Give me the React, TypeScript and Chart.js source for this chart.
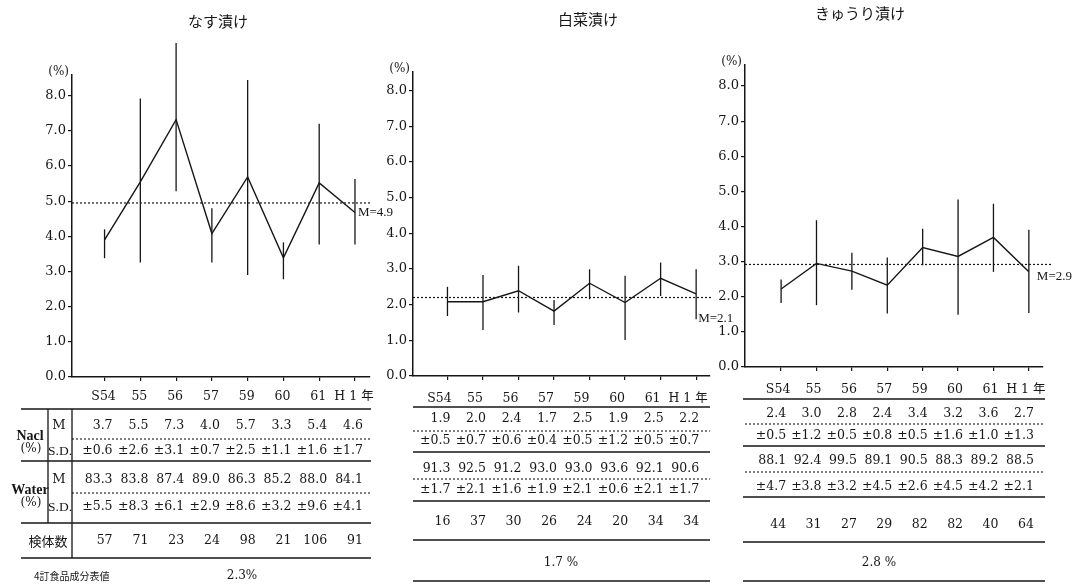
import React, { useEffect, useRef } from "react";
import { Chart, registerables } from "chart.js";
Chart.register(...registerables);

// ---- categories ----
const years = ["S54", "55", "56", "57", "59", "60", "61", "H 1 年"];
const yTicks = [0, 1, 2, 3, 4, 5, 6, 7, 8];

// ---- なす漬け (plotted values) ----
const nasuPoint = [3.9, 5.55, 7.32, 4.08, 5.69, 3.39, 5.52, 4.68];
const nasuHigh = [4.2, 7.92, 9.5, 4.8, 8.45, 3.83, 7.2, 5.63];
const nasuLow = [3.38, 3.26, 5.28, 3.26, 2.9, 2.78, 3.77, 3.77];
const nasuMeanLine = 4.95;
const nasuMeanText = "M=4.9";
const nasuNaclM = [3.7, 5.5, 7.3, 4.0, 5.7, 3.3, 5.4, 4.6];
const nasuNaclSD = [0.6, 2.6, 3.1, 0.7, 2.5, 1.1, 1.6, 1.7];
const nasuWaterM = [83.3, 83.8, 87.4, 89.0, 86.3, 85.2, 88.0, 84.1];
const nasuWaterSD = [5.5, 8.3, 6.1, 2.9, 8.6, 3.2, 9.6, 4.1];
const nasuCount = [57, 71, 23, 24, 98, 21, 106, 91];
const nasuRef = "2.3%";

// ---- 白菜漬け ----
const hakuPoint = [2.08, 2.08, 2.39, 1.82, 2.6, 2.06, 2.74, 2.3];
const hakuHigh = [2.5, 2.83, 3.09, 2.13, 2.99, 2.81, 3.18, 2.99];
const hakuLow = [1.68, 1.29, 1.78, 1.43, 2.15, 1.01, 2.24, 1.59];
const hakuMeanLine = 2.2;
const hakuMeanText = "M=2.1";
const hakuNaclM = [1.9, 2.0, 2.4, 1.7, 2.5, 1.9, 2.5, 2.2];
const hakuNaclSD = [0.5, 0.7, 0.6, 0.4, 0.5, 1.2, 0.5, 0.7];
const hakuWaterM = [91.3, 92.5, 91.2, 93.0, 93.0, 93.6, 92.1, 90.6];
const hakuWaterSD = [1.7, 2.1, 1.6, 1.9, 2.1, 0.6, 2.1, 1.7];
const hakuCount = [16, 37, 30, 26, 24, 20, 34, 34];
const hakuRef = "1.7 %";

// ---- きゅうり漬け ----
const kyuPoint = [2.22, 2.95, 2.73, 2.33, 3.4, 3.15, 3.69, 2.71];
const kyuHigh = [2.49, 4.18, 3.25, 3.12, 3.94, 4.77, 4.65, 3.91];
const kyuLow = [1.82, 1.76, 2.2, 1.52, 2.9, 1.49, 2.71, 1.54];
const kyuMeanLine = 2.92;
const kyuMeanText = "M=2.9";
const kyuNaclM = [2.4, 3.0, 2.8, 2.4, 3.4, 3.2, 3.6, 2.7];
const kyuNaclSD = [0.5, 1.2, 0.5, 0.8, 0.5, 1.6, 1.0, 1.3];
const kyuWaterM = [88.1, 92.4, 99.5, 89.1, 90.5, 88.3, 89.2, 88.5];
const kyuWaterSD = [4.7, 3.8, 3.2, 4.5, 2.6, 4.5, 4.2, 2.1];
const kyuCount = [44, 31, 27, 29, 82, 82, 40, 64];
const kyuRef = "2.8 %";

const SERIF = '"DejaVu Serif", "Liberation Serif", "Noto Sans CJK JP", serif';
const TSERIF = '"Liberation Serif", "DejaVu Serif", serif';
const JP = '"Noto Sans CJK JP", "Liberation Serif", sans-serif';
const INK = "#161616";

const fmtM = (v: number) => v.toFixed(1);
const fmtSD = (v: number) => "±" + v.toFixed(1);
const fmtN = (v: number) => String(v);

type Spec = {
  title: string;
  titleX: number;
  titleY: number;
  left: number;
  width: number;
  padTop: number;
  yW: number;
  padRight: number;
  padBottom: number;
  xMin: number;
  xMax: number;
  yMax: number;
  shift: number;
  labelShift: number;
  tickPad: number;
  point: number[];
  high: number[];
  low: number[];
  meanLine: number;
  meanText: string;
  meanDx: number;
  meanDy: number;
  meanExtra: number;
  rows: { y: number; cells: string[] }[];
  solid: number[];
  dotted: number[];
  lineX0: number;
  lineX1: number;
  dotX0: number;
  ref: string;
  refX: number;
  refY: number;
  withLabels: boolean;
};

const specs: Spec[] = [
  {
    title: "なす漬け", titleX: 218, titleY: 21,
    left: 0, width: 405, padTop: 75, yW: 72, padRight: 35, padBottom: 177,
    xMin: -0.91, xMax: 7.42, yMax: 8.59, shift: 8, labelShift: -1, tickPad: 8,
    point: nasuPoint, high: nasuHigh, low: nasuLow,
    meanLine: nasuMeanLine, meanText: nasuMeanText, meanDx: 3, meanDy: 10, meanExtra: 2,
    rows: [
      { y: 426, cells: nasuNaclM.map(fmtM) },
      { y: 451, cells: nasuNaclSD.map(fmtSD) },
      { y: 480, cells: nasuWaterM.map(fmtM) },
      { y: 507, cells: nasuWaterSD.map(fmtSD) },
      { y: 541, cells: nasuCount.map(fmtN) },
    ],
    solid: [409, 461, 523, 558], dotted: [439, 493],
    lineX0: 21, lineX1: 371, dotX0: 72,
    ref: nasuRef, refX: 242, refY: 576, withLabels: true,
  },
  {
    title: "白菜漬け", titleX: 588, titleY: 19,
    left: 370, width: 370, padTop: 72, yW: 43, padRight: 30, padBottom: 178,
    xMin: -0.97, xMax: 7.39, yMax: 8.52, shift: 3, labelShift: -8, tickPad: 11,
    point: hakuPoint, high: hakuHigh, low: hakuLow,
    meanLine: hakuMeanLine, meanText: hakuMeanText, meanDx: 2, meanDy: 21, meanExtra: 2,
    rows: [
      { y: 419, cells: hakuNaclM.map(fmtM) },
      { y: 441, cells: hakuNaclSD.map(fmtSD) },
      { y: 469, cells: hakuWaterM.map(fmtM) },
      { y: 490, cells: hakuWaterSD.map(fmtSD) },
      { y: 522, cells: hakuCount.map(fmtN) },
    ],
    solid: [407, 452, 501, 540, 581], dotted: [431, 479],
    lineX0: 413, lineX1: 710, dotX0: 413,
    ref: hakuRef, refX: 561, refY: 563, withLabels: false,
  },
  {
    title: "きゅうり漬け", titleX: 860, titleY: 13,
    left: 705, width: 369, padTop: 65, yW: 40, padRight: 31, padBottom: 187,
    xMin: -1.02, xMax: 7.4, yMax: 8.6, shift: 5, labelShift: -3, tickPad: 11,
    point: kyuPoint, high: kyuHigh, low: kyuLow,
    meanLine: kyuMeanLine, meanText: kyuMeanText, meanDx: 8, meanDy: 12, meanExtra: 9,
    rows: [
      { y: 414, cells: kyuNaclM.map(fmtM) },
      { y: 436, cells: kyuNaclSD.map(fmtSD) },
      { y: 461, cells: kyuWaterM.map(fmtM) },
      { y: 487, cells: kyuWaterSD.map(fmtSD) },
      { y: 525, cells: kyuCount.map(fmtN) },
    ],
    solid: [399, 446, 497, 542, 581], dotted: [424, 472],
    lineX0: 743, lineX1: 1045, dotX0: 745,
    ref: kyuRef, refX: 879, refY: 563, withLabels: false,
  },
];

function hline(ctx: CanvasRenderingContext2D, x0: number, x1: number, y: number, dash: number[], w: number) {
  ctx.save();
  ctx.setLineDash(dash);
  ctx.lineWidth = w;
  ctx.strokeStyle = INK;
  ctx.beginPath();
  ctx.moveTo(x0, y);
  ctx.lineTo(x1, y);
  ctx.stroke();
  ctx.restore();
}

function makeExtras(p: Spec) {
  return {
    id: "extras",
    afterDatasetsDraw(chart: any) {
      const { ctx, chartArea } = chart;
      const x = chart.scales.x;
      const y = chart.scales.y;
      ctx.save();
      // error bars
      ctx.strokeStyle = INK;
      ctx.lineWidth = 1.3;
      p.high.forEach((h, i) => {
        const px = x.getPixelForValue(i);
        ctx.beginPath();
        ctx.moveTo(px, y.getPixelForValue(h));
        ctx.lineTo(px, y.getPixelForValue(p.low[i]));
        ctx.stroke();
      });
      // mean line
      const my = y.getPixelForValue(p.meanLine);
      hline(ctx, chartArea.left, chartArea.right + p.meanExtra, my, [2, 2], 1.2);
      ctx.fillStyle = INK;
      ctx.font = "13px " + TSERIF;
      ctx.textAlign = "left";
      ctx.textBaseline = "middle";
      ctx.fillText(p.meanText, x.getPixelForValue(p.point.length - 1) + p.meanDx, my + p.meanDy);
      ctx.restore();
    },
    afterDraw(chart: any) {
      const { ctx, chartArea } = chart;
      const x = chart.scales.x;
      const L = p.left;
      ctx.save();
      ctx.fillStyle = INK;
      // title
      ctx.font = "15px " + JP;
      ctx.textAlign = "center";
      ctx.textBaseline = "middle";
      ctx.fillText(p.title, p.titleX - L, p.titleY);
      // unit
      ctx.font = "12px " + SERIF;
      ctx.textAlign = "right";
      ctx.fillText("(%)", chartArea.left - 3, chartArea.top - 3);
      // table lines
      p.solid.forEach((yy) => hline(ctx, p.lineX0 - L, p.lineX1 - L, yy, [], 1.3));
      p.dotted.forEach((yy) => hline(ctx, p.dotX0 - L, p.lineX1 - L, yy, [2, 2], 1.1));
      // table cells
      ctx.font = "12.5px " + SERIF;
      ctx.textAlign = "right";
      ctx.textBaseline = "middle";
      p.rows.forEach((r) => {
        r.cells.forEach((c, i) => {
          ctx.fillText(c, x.getPixelForValue(i) + p.shift, r.y);
        });
      });
      if (p.withLabels) {
        ctx.strokeStyle = INK;
        ctx.lineWidth = 1.3;
        ctx.beginPath();
        ctx.moveTo(48, p.solid[0]);
        ctx.lineTo(48, p.solid[2]);
        ctx.moveTo(chartArea.left, p.solid[0]);
        ctx.lineTo(chartArea.left, p.solid[3]);
        ctx.stroke();
        ctx.textAlign = "center";
        ctx.font = "bold 14px " + TSERIF;
        ctx.fillText("Nacl", 30, 436);
        ctx.fillText("Water", 30, 490);
        ctx.font = "12px " + SERIF;
        ctx.fillText("(%)", 31, 449);
        ctx.fillText("(%)", 31, 503);
        ctx.font = "13px " + SERIF;
        ctx.fillText("M", 59, 426);
        ctx.fillText("M", 59, 480);
        ctx.font = "13.5px " + TSERIF;
        ctx.fillText("S.D.", 60, 451);
        ctx.fillText("S.D.", 60, 507);
        ctx.font = "13px " + JP;
        ctx.fillText("検体数", 48, 541);
        ctx.font = "10px " + JP;
        ctx.textAlign = "left";
        ctx.fillText("4訂食品成分表値", 34, 576);
      }
      ctx.font = "12px " + SERIF;
      ctx.textAlign = "center";
      ctx.fillText(p.ref, p.refX - L, p.refY);
      ctx.restore();
    },
  };
}

function Panel({ p }: { p: Spec }) {
  const ref = useRef<HTMLCanvasElement | null>(null);
  useEffect(() => {
    const canvas = ref.current;
    if (!canvas) return;
    const chart = new Chart(canvas, {
      type: "line",
      data: {
        datasets: [
          {
            data: p.point.map((v, i) => ({ x: i, y: v })),
            borderColor: INK,
            borderWidth: 1.4,
            pointRadius: 0,
            tension: 0,
            fill: false,
          },
        ],
      },
      options: {
        animation: false,
        responsive: false,
        maintainAspectRatio: false,
        devicePixelRatio: 1,
        events: [],
        layout: { padding: { left: 0, top: p.padTop, right: p.padRight, bottom: p.padBottom } },
        plugins: { legend: { display: false }, tooltip: { enabled: false }, title: { display: false } },
        scales: {
          x: {
            type: "linear",
            min: p.xMin,
            max: p.xMax,
            afterBuildTicks: (s: any) => {
              s.ticks = years.map((_, i) => ({ value: i }));
            },
            afterFit: (s: any) => {
              s.height = 30;
            },
            ticks: {
              callback: (v: any) => years[v as number] ?? "",
              labelOffset: p.labelShift,
              padding: p.tickPad,
              autoSkip: false,
              maxRotation: 0,
              minRotation: 0,
              color: INK,
              font: { family: SERIF, size: 12.5 },
            },
            grid: { drawOnChartArea: false, drawTicks: true, tickLength: 4, color: INK, lineWidth: 1.2 },
            border: { display: true, color: INK, width: 1.5 },
          },
          y: {
            type: "linear",
            min: 0,
            max: p.yMax,
            afterBuildTicks: (s: any) => {
              s.ticks = yTicks.map((v) => ({ value: v }));
            },
            afterFit: (s: any) => {
              s.width = p.yW;
            },
            ticks: {
              callback: (v: any) => Number(v).toFixed(1),
              padding: 2,
              color: INK,
              font: { family: SERIF, size: 13 },
            },
            grid: { drawOnChartArea: false, drawTicks: true, tickLength: 4, color: INK, lineWidth: 1.2 },
            border: { display: true, color: INK, width: 1.5 },
          },
        },
      },
      plugins: [makeExtras(p)],
    } as any);
    return () => chart.destroy();
  }, [p]);
  return (
    <canvas
      ref={ref}
      width={p.width}
      height={584}
      style={{ position: "absolute", left: p.left, top: 0, width: p.width, height: 584 }}
    />
  );
}

export default function App() {
  return (
    <div style={{ position: "absolute", left: 0, top: 0, width: 1074, height: 584, background: "#fff", overflow: "hidden" }}>
      {specs.map((p, i) => (
        <Panel key={i} p={p} />
      ))}
    </div>
  );
}
